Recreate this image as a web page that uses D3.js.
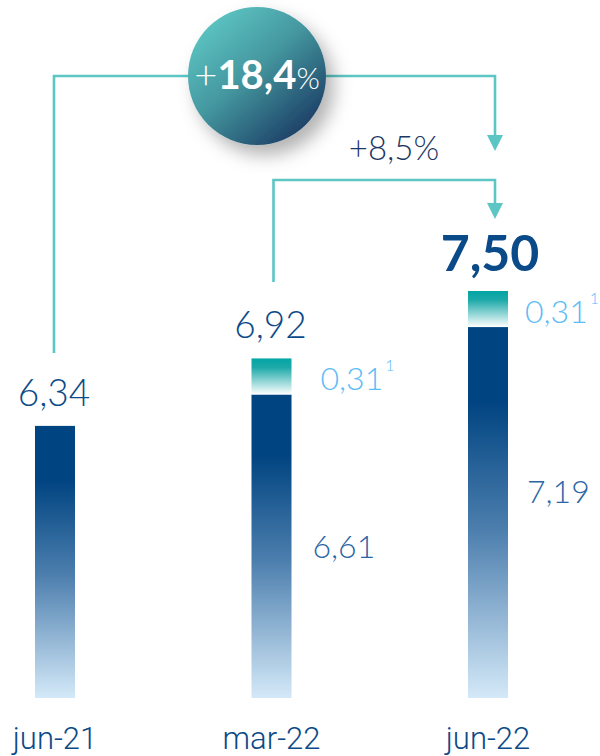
<!DOCTYPE html>
<html>
<head>
<meta charset="utf-8">
<script src="https://cdn.jsdelivr.net/npm/d3@7"></script>
<style>
  body { margin: 0; background: #fff; }
  text { font-family: Lato, "Open Sans", sans-serif; }
</style>
</head>
<body>
<svg id="chart" width="600" height="756"></svg>
<script>
// data
const categories = ['jun-21', 'mar-22', 'jun-22'];
const baseValues = [6.34, 6.61, 7.19];
const extraValues = [0, 0.31, 0.31];
const growthLabels = ['+18,4%', '+8,5%'];

const fmt = d3.formatLocale({decimal: ',', thousands: '.', grouping: [3], currency: ['', '€']}).format('.2f');

const svg = d3.select('#chart');
const defs = svg.append('defs');

const x = d3.scalePoint().domain(categories).range([55, 488]);
const y = d3.scaleLinear().domain([4, 7.5]).range([698, 291]);
const barW = 40;

// gradients
let navy = defs.append('linearGradient').attr('id', 'navy')
  .attr('x1', 0).attr('y1', 0).attr('x2', 0).attr('y2', 1);
navy.append('stop').attr('offset', '0%').attr('stop-color', '#004481');
navy.append('stop').attr('offset', '20%').attr('stop-color', '#004481');
navy.append('stop').attr('offset', '55%').attr('stop-color', '#4d7fae');
navy.append('stop').attr('offset', '100%').attr('stop-color', '#d4e9f8');

let teal = defs.append('linearGradient').attr('id', 'teal')
  .attr('x1', 0).attr('y1', 0).attr('x2', 0).attr('y2', 1);
teal.append('stop').attr('offset', '0%').attr('stop-color', '#02a5a5');
teal.append('stop').attr('offset', '25%').attr('stop-color', '#1ea9a9');
teal.append('stop').attr('offset', '100%').attr('stop-color', '#ffffff');

let ball = defs.append('linearGradient').attr('id', 'ball')
  .attr('x1', 0.15).attr('y1', 0.1).attr('x2', 0.85).attr('y2', 0.9);
ball.append('stop').attr('offset', '0%').attr('stop-color', '#5cc3c2');
ball.append('stop').attr('offset', '45%').attr('stop-color', '#44979f');
ball.append('stop').attr('offset', '100%').attr('stop-color', '#1c3f66');

let shadow = defs.append('filter').attr('id', 'shadow')
  .attr('x', '-40%').attr('y', '-40%').attr('width', '190%').attr('height', '190%');
shadow.append('feDropShadow').attr('dx', 8).attr('dy', 10).attr('stdDeviation', 9)
  .attr('flood-color', '#000').attr('flood-opacity', 0.3);

// connectors
const lineCol = '#5bc6c4';
const arrowX = x('jun-22') + 7;
const conn = svg.append('g').attr('fill', 'none').attr('stroke', lineCol).attr('stroke-width', 2.6);
conn.append('path').attr('d', 'M' + (x('jun-21') - 1) + ',353 V76 H' + arrowX + ' V137');
conn.append('path').attr('d', 'M' + (x('mar-22') + 2) + ',282 V180 H' + arrowX + ' V205');

const arrow = function(tipY) {
  svg.append('path')
    .attr('d', 'M' + (arrowX - 8) + ',' + (tipY - 16) + ' L' + (arrowX + 8) + ',' + (tipY - 16) + ' L' + arrowX + ',' + tipY + 'Z')
    .attr('fill', lineCol);
};
arrow(151);
arrow(219);

// bars
const bars = svg.append('g');
categories.forEach(function(c, i) {
  let cx = x(c);
  bars.append('rect')
    .attr('x', cx - barW / 2).attr('width', barW)
    .attr('y', y(baseValues[i])).attr('height', y(4) - y(baseValues[i]))
    .attr('fill', 'url(#navy)');
  if (extraValues[i] > 0) {
    let top = baseValues[i] + extraValues[i];
    bars.append('rect')
      .attr('x', cx - barW / 2).attr('width', barW)
      .attr('y', y(top)).attr('height', y(baseValues[i]) - y(top))
      .attr('fill', 'url(#teal)');
  }
});

// total labels
categories.forEach(function(c, i) {
  let total = baseValues[i] + extraValues[i];
  let last = i === categories.length - 1;
  svg.append('text')
    .attr('x', x(c) + (last ? 2 : -1))
    .attr('y', y(total) - 20)
    .attr('text-anchor', 'middle')
    .attr('font-size', last ? 50 : 37)
    .attr('font-weight', last ? 700 : 300)
    .attr('fill', '#0b4a88')
    .text(fmt(total));
});

// segment labels
const segDx = [0, 41, 39];
const segY = [0, 558, 503];
const extraDx = [0, 49, 37];
categories.forEach(function(c, i) {
  if (extraValues[i] <= 0) return;
  svg.append('text')
    .attr('x', x(c) + segDx[i]).attr('y', segY[i])
    .attr('font-size', 32).attr('font-weight', 300)
    .attr('fill', '#2a66a6')
    .text(fmt(baseValues[i]));
  let yMid = (y(baseValues[i]) + y(baseValues[i] + extraValues[i])) / 2;
  let t = svg.append('text')
    .attr('x', x(c) + extraDx[i]).attr('y', yMid + 14)
    .attr('font-size', 32).attr('font-weight', 300)
    .attr('fill', '#5bbcf7');
  t.append('tspan').text(fmt(extraValues[i]));
  t.append('tspan').attr('dx', 2).attr('dy', -19).attr('font-size', 16).text('1');
});

// category labels
svg.append('g').selectAll('text').data(categories).join('text')
  .attr('x', d => x(d)).attr('y', 749)
  .attr('text-anchor', 'middle')
  .style('font-family', 'Roboto, sans-serif')
  .attr('font-size', 31).attr('font-weight', 300)
  .attr('fill', '#0b4a88')
  .text(d => d);

// growth bubble
svg.append('circle').attr('cx', 257).attr('cy', 76).attr('r', 69)
  .attr('fill', 'url(#ball)').attr('filter', 'url(#shadow)');
let g1 = svg.append('text').attr('x', 257).attr('y', 89)
  .attr('text-anchor', 'middle').attr('fill', '#fff');
let m = growthLabels[0].match(/^(\+)([\d,]+)(%)$/);
g1.append('tspan').attr('font-size', 40).attr('font-weight', 300).text(m[1]);
g1.append('tspan').attr('font-size', 40).attr('font-weight', 700).text(m[2]);
g1.append('tspan').attr('font-size', 30).attr('font-weight', 300).text(m[3]);

svg.append('text').attr('x', 394).attr('y', 160)
  .attr('text-anchor', 'middle')
  .attr('font-size', 33).attr('font-weight', 300)
  .attr('fill', '#1b3865')
  .text(growthLabels[1]);
</script>
</body>
</html>
